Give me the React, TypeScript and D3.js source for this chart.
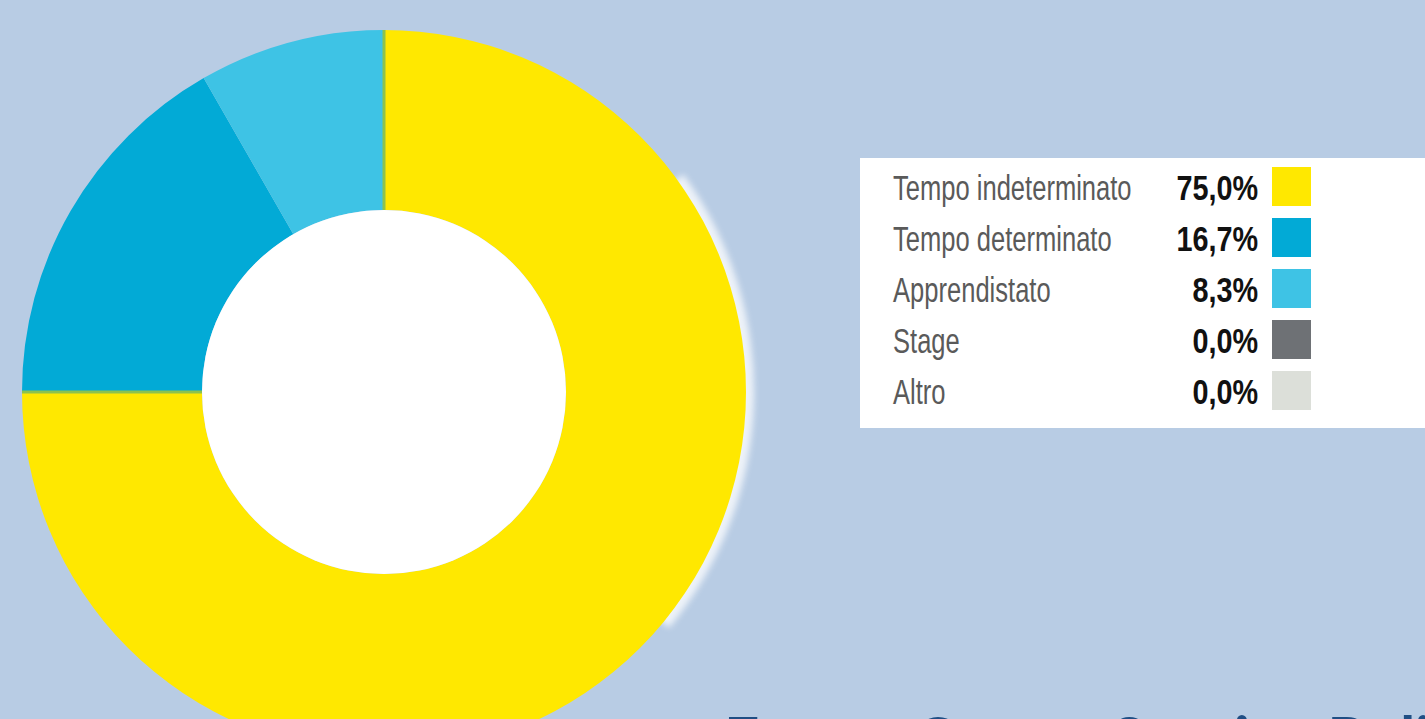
import { useEffect, useRef } from 'react';
import * as d3 from 'd3';

// Contratto di lavoro - distribuzione percentuale
const categories = ['Tempo indeterminato', 'Tempo determinato', 'Apprendistato', 'Stage', 'Altro'];
const values = [75.0, 16.7, 8.3, 0.0, 0.0];
const colors = ['#ffe800', '#02aad6', '#3ec3e5', '#6e7175', '#dcdfd9'];
const sourceNote = 'Fonte: Career Service Politecnico di Milano';

export default function App() {
    const svgRef = useRef<SVGSVGElement>(null);

    useEffect(() => {
        if (!svgRef.current) return;

        const svg = d3.select(svgRef.current);
        svg.selectAll('*').remove();

        const width = 1425;
        const height = 719;

        const defs = svg.append('defs');
        defs.append('filter')
            .attr('id', 'soft')
            .attr('x', '-20%').attr('y', '-20%').attr('width', '140%').attr('height', '140%')
            .append('feGaussianBlur')
            .attr('stdDeviation', 3);

        svg.append('rect')
            .attr('width', width)
            .attr('height', height)
            .attr('fill', '#b8cce4');

        // Donut
        const cx = 384;
        const cy = 392;
        const outerR = 362;
        const innerR = 182;

        const pie = d3.pie<number>().sort(null).value(d => d);
        const arcs = pie(values);
        const arc = d3.arc<d3.PieArcDatum<number>>()
            .innerRadius(innerR)
            .outerRadius(outerR);

        const donut = svg.append('g')
            .attr('transform', `translate(${cx},${cy})`);

        // faint white rim on the right of the ring (print artefact)
        donut.append('path')
            .attr('d', d3.arc()({ innerRadius: outerR - 8, outerRadius: outerR + 8, startAngle: Math.PI * 0.3, endAngle: Math.PI * 0.72 }) as string)
            .attr('fill', '#ffffff')
            .attr('opacity', 0.75)
            .attr('filter', 'url(#soft)');

        donut.selectAll('path.slice')
            .data(arcs.filter(d => d.value > 0))
            .enter()
            .append('path')
            .attr('class', 'slice')
            .attr('d', arc)
            .attr('fill', d => colors[d.index]);

        // greenish seams where yellow meets the blues
        const yellow = arcs[0];
        [yellow.startAngle, yellow.endAngle].forEach(a => {
            donut.append('line')
                .attr('x1', innerR * Math.sin(a))
                .attr('y1', -innerR * Math.cos(a))
                .attr('x2', outerR * Math.sin(a))
                .attr('y2', -outerR * Math.cos(a))
                .attr('stroke', '#8dc24e')
                .attr('stroke-width', 3);
        });

        // hole
        donut.append('circle')
            .attr('r', innerR)
            .attr('fill', '#ffffff');

        // Legend box
        const legend = svg.append('g');
        legend.append('rect')
            .attr('x', 860)
            .attr('y', 158)
            .attr('width', 580)
            .attr('height', 270)
            .attr('fill', '#ffffff');

        const rowY = d3.scalePoint<string>()
            .domain(categories)
            .range([167, 371]);

        const rows = legend.selectAll('.row')
            .data(categories)
            .enter()
            .append('g')
            .attr('class', 'row')
            .attr('transform', d => `translate(0,${rowY(d)})`);

        rows.append('text')
            .attr('transform', 'translate(893,33) scale(0.71,1)')
            .attr('font-family', '"Liberation Sans", Arial, sans-serif')
            .attr('font-size', '36px')
            .attr('fill', '#5a5a5a')
            .text(d => d);

        rows.append('text')
            .attr('transform', 'translate(1258,33) scale(0.8,1)')
            .attr('text-anchor', 'end')
            .attr('font-family', '"Liberation Sans", Arial, sans-serif')
            .attr('font-size', '36px')
            .attr('font-weight', 700)
            .attr('fill', '#111111')
            .text((_, i) => d3.format('.1f')(values[i]).replace('.', ',') + '%');

        rows.append('rect')
            .attr('x', 1272)
            .attr('y', 0)
            .attr('width', 39)
            .attr('height', 39)
            .attr('fill', (_, i) => colors[i]);

        // Source note (cut off by the bottom edge)
        svg.append('text')
            .attr('x', 724)
            .attr('y', 761)
            .attr('font-family', 'Lato, "Open Sans", sans-serif')
            .attr('font-size', '62px')
            .attr('font-weight', 700)
            .attr('fill', '#1f4e84')
            .text(sourceNote);
    }, []);

    return (
        <div style={{ position: 'fixed', left: 0, top: 0, width: 1425, height: 719, overflow: 'hidden' }}>
            <svg ref={svgRef} width={1425} height={719} style={{ display: 'block' }} />
        </div>
    );
}
